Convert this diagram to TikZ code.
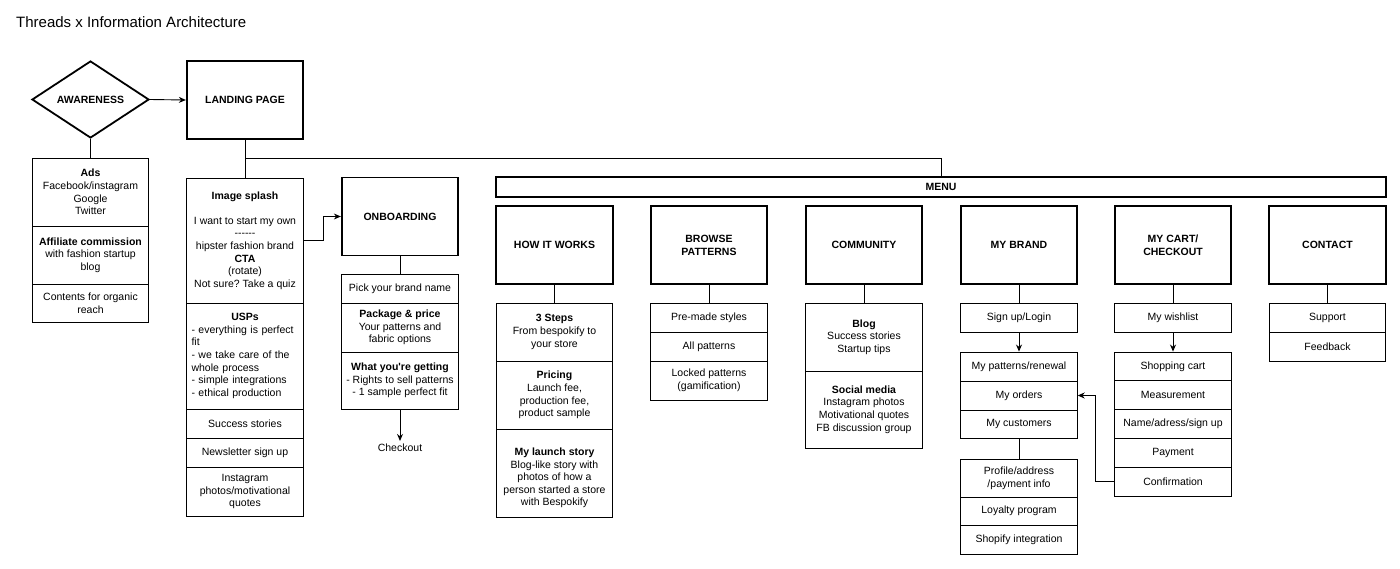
\documentclass[tikz,border=0pt]{standalone}
\usepackage{fontspec}
\setmainfont{Liberation Sans}
\usetikzlibrary{shapes.geometric,arrows.meta}
\frenchspacing
\begin{document}
\begin{tikzpicture}[x=1pt,y=-1pt,
  every node/.style={font=\fontsize{10.5}{12.6}\selectfont, inner sep=0pt},
  big/.style={draw, line width=1.8pt, minimum width=116.5pt, minimum height=78pt, align=center, font=\fontsize{10.5}{13}\selectfont\bfseries},
  cell/.style={draw, line width=0.9pt, minimum width=116.5pt, align=center},
  conn/.style={line width=0.9pt},
  arr/.style={conn, -{Stealth[length=7pt,width=6pt]}},
]
\useasboundingbox (0,0) rectangle (1400,568);
\node[anchor=base west, font=\fontsize{15}{18}\selectfont] (title) at (16,27.5) {Threads x Information Architecture};

% awareness
\node[big, diamond, shape aspect=1.5, minimum width=117pt, minimum height=77pt] (aw) at (90.5,99.5) {AWARENESS};
\node[big] (lp) at (245,100) {LANDING PAGE};

\node[cell, minimum height=68pt] (ads) at (90.5,192) {\textbf{Ads}\\Facebook/instagram\\Google\\Twitter};
\node[cell, minimum height=58pt] (aff) at (90.5,255) {\textbf{Affiliate commission}\\with fashion startup\\blog};
\node[cell, minimum height=38pt] (org) at (90.5,303) {Contents for organic\\reach};

% landing column
\node[cell, minimum height=125pt] (splash) at (245,240.5) {\textbf{Image splash}\\[12.6pt]I want to start my own\\-{}-{}-{}-{}-{}-\\hipster fashion brand\\\textbf{CTA}\\(rotate)\\Not sure? Take a quiz};
\node[cell, minimum height=106pt, text width=107pt, inner xsep=4.75pt, align=left] (usp) at (245,356) {\makebox[107pt]{\textbf{USPs}}\\- everything is perfect\\fit\\- we take care of the\\whole process\\- simple integrations\\- ethical production};
\node[cell, minimum height=29.5pt] (succ) at (245,424) {Success stories};
\node[cell, minimum height=28.5pt] (news) at (245,453) {Newsletter sign up};
\node[cell, minimum height=49pt] (insta) at (245,491.5) {Instagram\\photos/motivational\\quotes};

% onboarding
\node[big] (onb) at (400,216.5) {ONBOARDING};
\node[cell, minimum height=29pt] (pick) at (400,288.5) {Pick your brand name};
\node[cell, minimum height=49pt] (pkg) at (400,327.5) {\textbf{Package \& price}\\Your patterns and\\fabric options};
\node[cell, minimum height=57pt] (what) at (400,380.5) {\textbf{What you\textquotesingle re getting}\\- Rights to sell patterns\\- 1 sample perfect fit};
\node[inner sep=3pt] (chk) at (400,448) {Checkout};

% menu
\node[draw, line width=1.8pt, minimum width=890pt, minimum height=20pt, font=\fontsize{10.5}{12.6}\selectfont\bfseries] (menu) at (941,187) {MENU};

\node[big] (hiw) at (554.5,245) {HOW IT WORKS};
\node[big] (bp) at (709,245) {BROWSE\\PATTERNS};
\node[big] (com) at (864,245) {COMMUNITY};
\node[big] (mb) at (1019,245) {MY BRAND};
\node[big] (cart) at (1173,245) {MY CART/\\CHECKOUT};
\node[big] (con) at (1327.5,245) {CONTACT};

% how it works
\node[cell, minimum height=58pt] (s3) at (554.5,332) {\textbf{3 Steps}\\From bespokify to\\your store};
\node[cell, minimum height=68pt] (price) at (554.5,395) {\textbf{Pricing}\\Launch fee,\\production fee,\\product sample};
\node[cell, minimum height=88pt] (story) at (554.5,473) {\rule{0pt}{17.6pt}\textbf{My launch story}\\Blog-like story with\\photos of how a\\person started a store\\with Bespokify};

% browse
\node[cell, minimum height=29pt] (pre) at (709,317.5) {Pre-made styles};
\node[cell, minimum height=29pt] (allp) at (709,346.5) {All patterns};
\node[cell, minimum height=39pt] (lock) at (709,380.5) {Locked patterns\\(gamification)};

% community
\node[cell, minimum height=68pt] (blog) at (864,337) {\textbf{Blog}\\Success stories\\Startup tips};
\node[cell, minimum height=77pt] (soc) at (864,409.5) {\textbf{Social media}\\Instagram photos\\Motivational quotes\\FB discussion group};

% my brand
\node[cell, minimum height=29pt] (sign) at (1019,317.5) {Sign up/Login};
\node[cell, minimum height=29pt] (pat) at (1019,366.5) {My patterns/renewal};
\node[cell, minimum height=29pt] (ord) at (1019,395.5) {My orders};
\node[cell, minimum height=28pt] (cust) at (1019,424) {My customers};
\node[cell, minimum height=38pt] (prof) at (1019,478) {Profile/address\\/payment info};
\node[cell, minimum height=28pt] (loy) at (1019,511) {Loyalty program};
\node[cell, minimum height=29pt] (shop) at (1019,539.5) {Shopify integration};

% cart
\node[cell, minimum height=29pt] (wish) at (1173,317.5) {My wishlist};
\node[cell, minimum height=28.8pt] (sc) at (1173,366.4) {Shopping cart};
\node[cell, minimum height=28.8pt] (meas) at (1173,395.2) {Measurement};
\node[cell, minimum height=28.8pt] (name) at (1173,424) {Name/adress/sign up};
\node[cell, minimum height=28.8pt] (pay) at (1173,452.8) {Payment};
\node[cell, minimum height=28.8pt] (conf) at (1173,481.6) {Confirmation};

% contact
\node[cell, minimum height=29pt] (sup) at (1327.5,317.5) {Support};
\node[cell, minimum height=29pt] (fb) at (1327.5,346.5) {Feedback};

% connectors
\draw[arr] (aw.east) -- (lp.west);
\draw[conn] (aw.south) -- (ads.north);
\draw[conn] (lp.south) -- (splash.north);
\coordinate (br) at (245,158);
\draw[conn] (br) -| (menu.north);
\draw[arr] (splash.east) -- ++(20,0) |- (onb.west);
\draw[conn] (onb.south) -- (pick.north);
\draw[arr] (what.south) -- (chk.north);
\draw[conn] (hiw.south) -- (s3.north);
\draw[conn] (bp.south) -- (pre.north);
\draw[conn] (com.south) -- (blog.north);
\draw[conn] (mb.south) -- (sign.north);
\draw[conn] (cart.south) -- (wish.north);
\draw[conn] (con.south) -- (sup.north);
\draw[arr] (sign.south) -- (pat.north);
\draw[conn] (cust.south) -- (prof.north);
\draw[arr] (wish.south) -- (sc.north);
\draw[arr] (conf.west) -- ++(-19,0) |- (ord.east);
\end{tikzpicture}
\end{document}
